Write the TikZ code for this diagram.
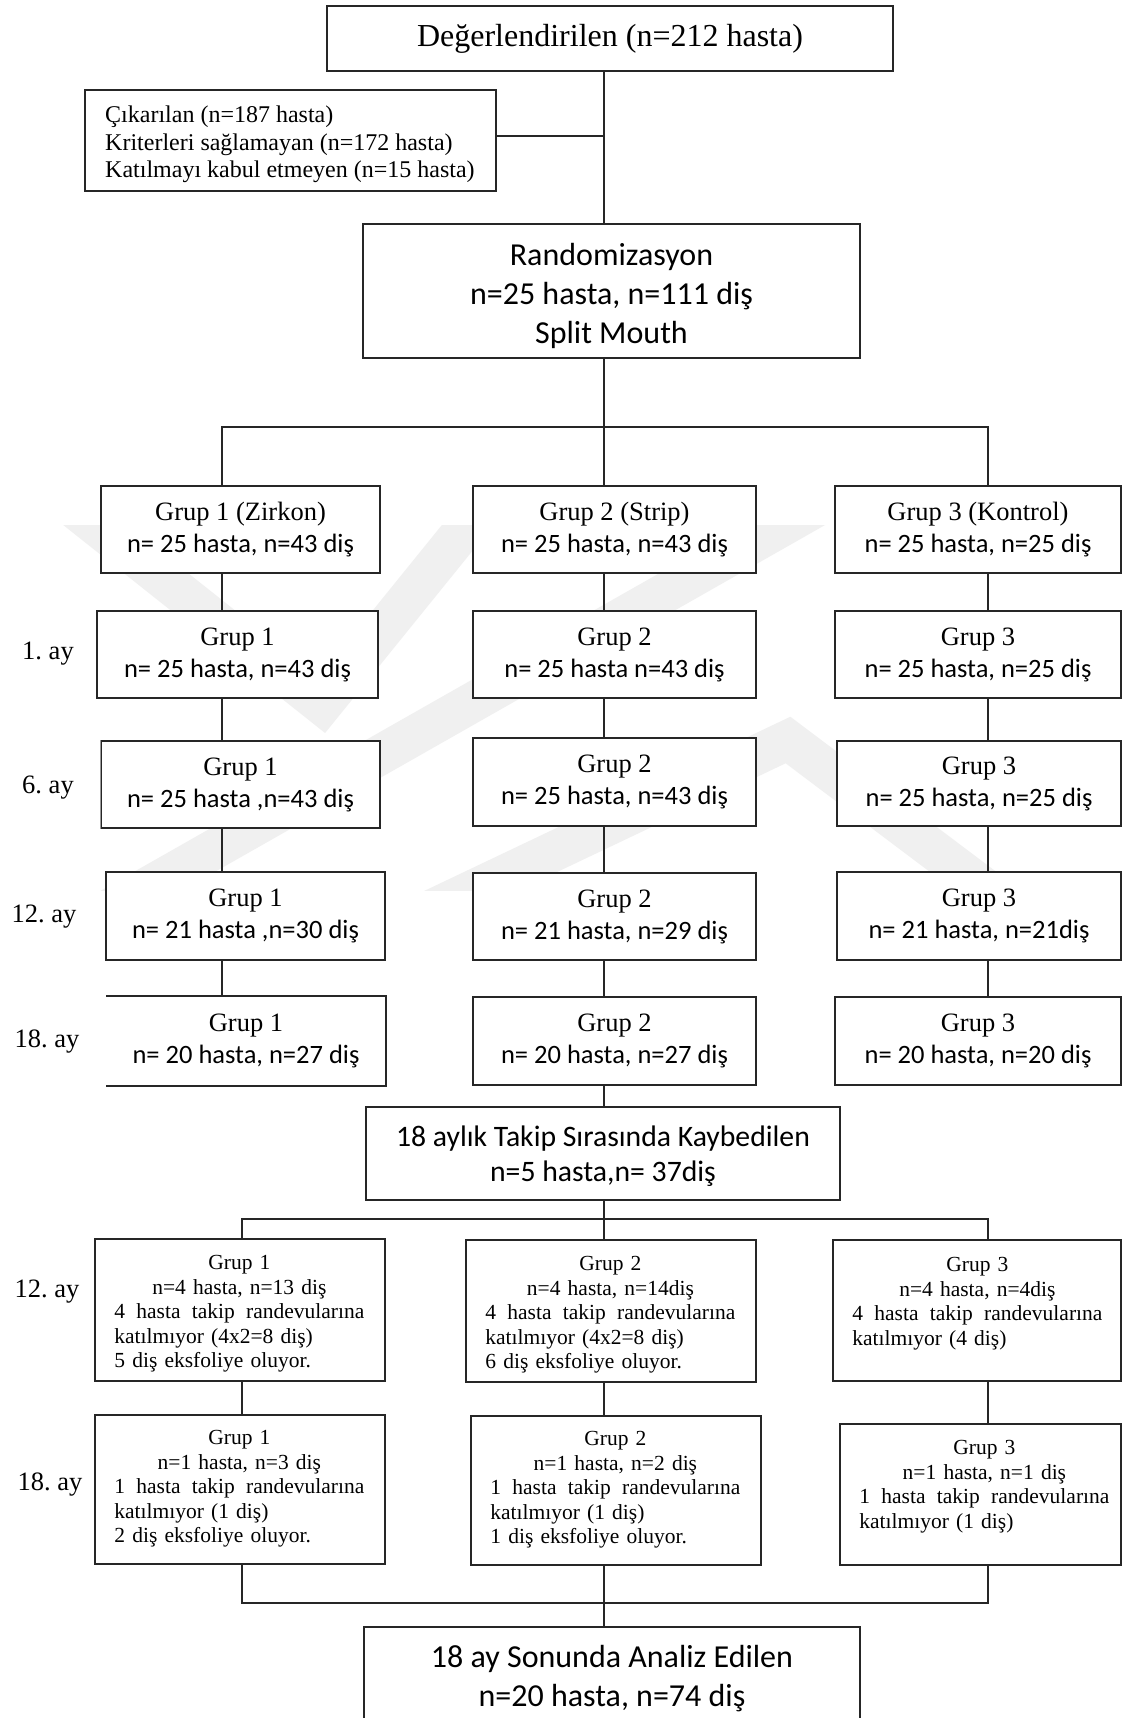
\documentclass[tikz,border=0pt]{standalone}
\usepackage{fontspec}
\setmainfont{Liberation Serif}
\newfontfamily\calib{Carlito}
\usetikzlibrary{calc}
\setlength{\parindent}{0pt}
\frenchspacing
\newcommand{\grp}[2]{#1\\{\calib #2}}
\newcommand{\ctr}[1]{\makebox[250pt][c]{#1}}
\newcommand{\sprd}[4]{\makebox[250pt][l]{#1\hfill #2\hfill #3\hfill #4}}
\begin{document}
\begin{tikzpicture}[x=1pt,y=-1pt,
  box/.style={draw=black!85, line width=1.6pt, fill=white, inner sep=0pt, align=center},
  gbox/.style={box, font=\fontsize{26.5}{32}\selectfont},
  lbl/.style={inner sep=0pt, font=\fontsize{26.5}{32}\selectfont},
  dtext/.style={anchor=north west, inner sep=0pt, text width=250pt, align=left, font=\fontsize{21.5}{24.5}\selectfont},
  conn/.style={draw=black!85, line width=1.3pt},
  wm/.style={draw=black!6, line width=40pt, line join=miter}
]
\useasboundingbox (0,0) rectangle (1123,1718);
\fill[white] (0,0) rectangle (1123,1718);

% faint watermark
\begin{scope}
\clip (0,525) rectangle (1123,890);
\draw[wm] (45,485) -- (322,705) -- (500,485);
\draw[wm] (95,917) -- (855,485);
\draw[wm] (416,917) -- (788,740) -- (1023,917);
\end{scope}

\coordinate (sp) at (604,0);
\coordinate (colA) at (222,0);
\coordinate (colC) at (988,0);
\coordinate (colA2) at (242,0);
\coordinate (j1) at (604,427);
\coordinate (j2) at (604,1219);
\coordinate (j3) at (604,1603);

% top part
\node[box, minimum width=566pt, minimum height=65pt, font=\fontsize{32}{38}\selectfont] (top) at (610,38.5) {Değerlendirilen (n=212 hasta)};
\node[box, minimum width=411pt, minimum height=101pt] (excl) at (290.5,140.5) {};
\node[anchor=north west, inner sep=0pt, align=left, font=\fontsize{24}{27.5}\selectfont] (exclt) at (105,106) {Çıkarılan (n=187 hasta)\\Kriterleri sağlamayan (n=172 hasta)\\Katılmayı kabul etmeyen (n=15 hasta)};
\node[box, minimum width=497pt, minimum height=134pt] (rand) at (611.5,291) {};
\node[inner sep=0pt, align=center, font=\calib\fontsize{32}{39}\selectfont] (randt) at (611.5,296) {Randomizasyon\\n=25 hasta, n=111 diş\\Split Mouth};

% row 1
\node[gbox, minimum width=279pt, minimum height=87pt] (a1) at (240.5,529.5) {\grp{Grup 1 (Zirkon)}{n= 25 hasta, n=43 diş}};
\node[gbox, minimum width=283pt, minimum height=87pt] (b1) at (614.5,529.5) {\grp{Grup 2 (Strip)}{n= 25 hasta, n=43 diş}};
\node[gbox, minimum width=286pt, minimum height=87pt] (c1) at (978,529.5) {\grp{Grup 3 (Kontrol)}{n= 25 hasta, n=25 diş}};
% row 2
\node[gbox, minimum width=281pt, minimum height=87pt] (a2) at (237.5,654.5) {\grp{Grup 1}{n= 25 hasta, n=43 diş}};
\node[gbox, minimum width=283pt, minimum height=87pt] (b2) at (614.5,654.5) {\grp{Grup 2}{n= 25 hasta n=43 diş}};
\node[gbox, minimum width=286pt, minimum height=87pt] (c2) at (978,654.5) {\grp{Grup 3}{n= 25 hasta, n=25 diş}};
% row 3
\node[gbox, minimum width=279pt, minimum height=87pt] (a3) at (240.5,784.5) {\grp{Grup 1}{n= 25 hasta ,n=43 diş}};
\node[gbox, minimum width=283pt, minimum height=88pt] (b3) at (614.5,782) {\grp{Grup 2}{n= 25 hasta, n=43 diş}};
\node[gbox, minimum width=284pt, minimum height=85pt] (c3) at (979,783.5) {\grp{Grup 3}{n= 25 hasta, n=25 diş}};
\draw[white, line width=1.8pt] (a3.north west) -- (a3.south west);
\draw[black!40, line width=0.8pt] (a3.north west) -- (a3.south west);
% row 4
\node[gbox, minimum width=279pt, minimum height=88pt] (a4) at (245.5,916) {\grp{Grup 1}{n= 21 hasta ,n=30 diş}};
\node[gbox, minimum width=283pt, minimum height=87pt] (b4) at (614.5,916.5) {\grp{Grup 2}{n= 21 hasta, n=29 diş}};
\node[gbox, minimum width=284pt, minimum height=88pt] (c4) at (979,916) {\grp{Grup 3}{n= 21 hasta, n=21diş}};
% row 5
\node[gbox, draw=none, minimum width=278pt, minimum height=88pt] (a5) at (246,1041) {\grp{Grup 1}{n= 20 hasta, n=27 diş}};
\draw[black!85, line width=1.6pt] (a5.north west) -- (a5.north east) -- (a5.south east) -- (a5.south west);
\node[gbox, minimum width=283pt, minimum height=88pt] (b5) at (614.5,1041) {\grp{Grup 2}{n= 20 hasta, n=27 diş}};
\node[gbox, minimum width=286pt, minimum height=88pt] (c5) at (978,1041) {\grp{Grup 3}{n= 20 hasta, n=20 diş}};

% loss box
\node[box, minimum width=474pt, minimum height=93pt] (loss) at (603,1153.5) {};
\node[inner sep=0pt, align=center, font=\calib\fontsize{29.7}{35}\selectfont] (losst) at (603,1156) {18 aylık Takip Sırasında Kaybedilen\\n=5 hasta,n= 37diş};

% row 6 (details 12. ay)
\node[box, minimum width=290pt, minimum height=142pt] (d1) at (240,1310) {};
\node[box, minimum width=290pt, minimum height=142pt] (d2) at (611,1311) {};
\node[box, minimum width=288pt, minimum height=141pt] (d3) at (977,1310.5) {};
\node[dtext] (d1t) at ($(d1.north west)+(20,17)$) {\ctr{Grup 1}\\\ctr{n=4 hasta, n=13 diş}\\\sprd{4}{hasta}{takip}{randevularına}\\katılmıyor (4x2=8 diş)\\5 diş eksfoliye oluyor.};
\node[dtext] (d2t) at ($(d2.north west)+(20,17)$) {\ctr{Grup 2}\\\ctr{n=4 hasta, n=14diş}\\\sprd{4}{hasta}{takip}{randevularına}\\katılmıyor (4x2=8 diş)\\6 diş eksfoliye oluyor.};
\node[dtext] (d3t) at ($(d3.north west)+(20,18)$) {\ctr{Grup 3}\\\ctr{n=4 hasta, n=4diş}\\\sprd{4}{hasta}{takip}{randevularına}\\katılmıyor (4 diş)};

% row 7 (details 18. ay)
\node[box, minimum width=290pt, minimum height=149pt] (e1) at (240,1489.5) {};
\node[box, minimum width=290pt, minimum height=149pt] (e2) at (616,1490.5) {};
\node[box, minimum width=281pt, minimum height=141pt] (e3) at (980.5,1494.5) {};
\node[dtext] (e1t) at ($(e1.north west)+(20,16)$) {\ctr{Grup 1}\\\ctr{n=1 hasta, n=3 diş}\\\sprd{1}{hasta}{takip}{randevularına}\\katılmıyor (1 diş)\\2 diş eksfoliye oluyor.};
\node[dtext] (e2t) at ($(e2.north west)+(20,16)$) {\ctr{Grup 2}\\\ctr{n=1 hasta, n=2 diş}\\\sprd{1}{hasta}{takip}{randevularına}\\katılmıyor (1 diş)\\1 diş eksfoliye oluyor.};
\node[dtext] (e3t) at ($(e3.north west)+(20,17)$) {\ctr{Grup 3}\\\ctr{n=1 hasta, n=1 diş}\\\sprd{1}{hasta}{takip}{randevularına}\\katılmıyor (1 diş)};

% final box (bottom edge runs off the page)
\node[box, minimum width=496pt, minimum height=103pt, font=\calib\fontsize{32}{39}\selectfont] (final) at (612,1678.5) {18 ay Sonunda Analiz Edilen\\n=20 hasta, n=74 diş};

% row labels
\node[lbl] (l1) at (48,654) {1. ay};
\node[lbl] (l2) at (48,788) {6. ay};
\node[lbl] (l3) at (44,917) {12. ay};
\node[lbl] (l4) at (47,1042) {18. ay};
\node[lbl] (l5) at (47,1292) {12. ay};
\node[lbl] (l6) at (50,1485) {18. ay};

% connectors
\coordinate (exc) at ([yshift=4.5pt]excl.east);
\draw[conn] (top.south -| sp) -- (rand.north -| sp);
\draw[conn] (exc) -- (exc -| sp);
\draw[conn] (rand.south -| sp) -- (b1.north -| sp);
\draw[conn] (a1.north -| colA) -- (colA |- j1) -- (colC |- j1) -- (c1.north -| colC);
\foreach \r/\s in {1/2,2/3,3/4,4/5} {
  \draw[conn] (a\r.south -| colA) -- (a\s.north -| colA);
  \draw[conn] (b\r.south -| sp) -- (b\s.north -| sp);
  \draw[conn] (c\r.south -| colC) -- (c\s.north -| colC);
}
\draw[conn] (b5.south -| sp) -- (loss.north -| sp);
\draw[conn] (loss.south -| sp) -- (d2.north -| sp);
\draw[conn] (d1.north -| colA2) -- (colA2 |- j2) -- (colC |- j2) -- (d3.north -| colC);
\draw[conn] (d1.south -| colA2) -- (e1.north -| colA2);
\draw[conn] (d2.south -| sp) -- (e2.north -| sp);
\draw[conn] (d3.south -| colC) -- (e3.north -| colC);
\draw[conn] (e1.south -| colA2) -- (colA2 |- j3) -- (colC |- j3) -- (e3.south -| colC);
\draw[conn] (e2.south -| sp) -- (final.north -| sp);
\end{tikzpicture}
\end{document}
